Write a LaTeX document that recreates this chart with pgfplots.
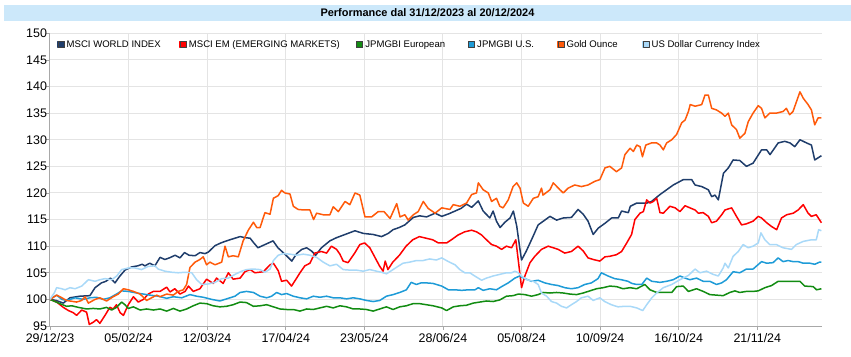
\documentclass[border=0pt]{standalone}
\usepackage{pgfplots}
\pgfplotsset{compat=1.18}
\usepackage{fontspec}
\setmainfont{Liberation Sans}
\definecolor{cWorld}{HTML}{1F3D6B}
\definecolor{cEM}{HTML}{FF0000}
\definecolor{cEur}{HTML}{128C12}
\definecolor{cUS}{HTML}{1E9BD7}
\definecolor{cGold}{HTML}{FF5A0A}
\definecolor{cUSD}{HTML}{A9D9F8}
\definecolor{titlebg}{HTML}{CCE8FA}
\definecolor{gridgray}{HTML}{E4E4E4}
\definecolor{axisgray}{HTML}{A8A8A8}
\begin{document}
\begin{tikzpicture}
\useasboundingbox (-50bp,-31bp) rectangle (801bp,326bp);
\begin{axis}[
  scale only axis, width=772bp, height=292.7bp,
  xmin=0, xmax=255.4, ymin=95, ymax=150,
  axis x line=bottom, axis y line=left,
  axis line style={draw=axisgray, line width=1bp, -},
  tick align=outside, major tick length=3.5bp,
  tick style={draw=axisgray, line width=0.8bp},
  grid=major, grid style={draw=gridgray, line width=1bp},
  ytick={95,100,...,150},
  xtick={0,26,52,78,104,130,156,182,208,234},
  xticklabels={29/12/23,05/02/24,12/03/24,17/04/24,23/05/24,28/06/24,05/08/24,10/09/24,16/10/24,21/11/24},
  ticklabel style={font=\fontsize{12.5}{14}\selectfont},
  yticklabel style={xshift=4bp},
  /pgf/number format/assume math mode=true,
  title={Performance dal 31/12/2023 al 20/12/2024},
  title style={at={(rel axis cs:0.5,1)}, anchor=center, yshift=14.3bp, xshift=-8.5bp,
    fill=titlebg, minimum width=847bp, minimum height=16bp, inner sep=0pt,
    font=\bfseries\fontsize{11}{13}\selectfont},
  legend columns=6,
  legend style={at={(rel axis cs:0,1)}, anchor=north west, xshift=7bp, yshift=-5bp,
    draw=none, fill=none, inner sep=0pt,
    font=\fontsize{9.6}{11}\selectfont,
    /tikz/column 2/.style={column sep=16.7bp},
    /tikz/column 4/.style={column sep=14.1bp},
    /tikz/column 6/.style={column sep=20.6bp},
    /tikz/column 8/.style={column sep=21bp},
    /tikz/column 10/.style={column sep=22.5bp}},
  legend image code/.code={\fill[#1] (0bp,-3bp) rectangle (6bp,3bp);
    \draw[black!75, line width=0.6bp] (0bp,-3bp) rectangle (6bp,3bp);},
  every axis plot/.append style={line width=1.5bp, line join=round, mark=none},
]
\addplot[color=cWorld] coordinates {
(0,100)(2,99.8)(4.4,99.3)(6.6,100.3)(9.9,100.6)(13.2,100.7)(14.9,102.2)(17,103.1)(18.5,103.4)(20,104)(21.5,103.1)(23,104.3)(24.8,105.5)(27,106.1)(29,106.3)(30.5,106.6)(31.4,106.3)(33,106.8)(34.7,106.3)(36.4,107.9)(38,107.5)(39.5,107.8)(41.4,108.3)(43,107.8)(44.5,108.8)(46,108.3)(48,108.2)(49.6,108.8)(51.3,108.6)(52.4,108.9)(54.6,110.1)(56.5,110.6)(57.9,110.9)(59.5,111.2)(61.2,111.5)(62.9,111.8)(64.5,111.6)(66.2,111.5)(67.3,110.7)(68.8,109.7)(71.1,110.3)(73.8,111)(75.4,109.7)(77.7,108.5)(80,107.2)(81.6,108.6)(83.3,109.4)(84.9,109.7)(86.5,109.1)(87.9,108.3)(89.8,109.7)(92.6,111)(94.8,111.6)(98.1,112.3)(100.9,112.9)(103.6,112.4)(106.9,112.2)(109.7,111.8)(111.9,112.4)(113.5,113.1)(115.5,113.5)(117.4,114)(120.2,115.4)(122.3,115.7)(124.6,115.5)(127.4,116.2)(129.6,115.6)(132,116.1)(134,116.6)(136,117.1)(137.8,117.9)(139.5,117.3)(141.7,118.5)(143.3,116.6)(145.5,115.3)(146.6,116.6)(147.7,114.7)(148.9,113.5)(150.5,114.5)(152.2,115.3)(153.3,116.6)(154.4,113.8)(155.5,109.3)(156,107.4)(157.5,109)(159.3,111.2)(161.5,114)(163.7,114.9)(165.4,115.6)(167.6,114.9)(169.8,115.3)(172.5,115.4)(174.7,116.9)(176.4,116)(178,114.7)(179.7,112.2)(181.4,113.4)(183.6,114.3)(185.8,115.3)(188,115.3)(189.1,116.6)(191.3,116.3)(192,117.5)(194.1,118.1)(197.4,118.1)(199,118.4)(201.8,119.7)(204,120.6)(206.2,121.5)(209.5,122.5)(212.3,122.5)(213.4,121.5)(215.6,121.2)(217.8,120.6)(218.9,119.3)(220,119.6)(221.1,118.7)(222.8,123.7)(224.4,124.7)(226,126.2)(228.2,126.1)(230.4,125)(232.6,125.6)(235.4,128.1)(237.1,128.1)(238.2,127.2)(240.9,129.4)(243.1,129.7)(244.8,129.4)(246.4,128.7)(248.1,130)(250.3,129.4)(251.9,129)(253,126.2)(255.2,127)
};
\addlegendentry{MSCI WORLD INDEX}
\addplot[color=cEM] coordinates {
(0,100)(2.2,99.5)(4.4,98.5)(6.1,97.9)(7.7,97.5)(8.8,97)(10.5,98)(12.1,97.6)(13,95.3)(14.3,95.7)(15.4,96.2)(16.5,95.5)(18.2,97)(19.8,98.5)(20.9,98.2)(22,99)(23.2,97.5)(24.3,97)(25.9,99)(27.6,100.5)(29.2,99.5)(30.9,100)(32.5,101)(34.2,101.5)(36.4,101.5)(38.6,102.3)(39.7,101.4)(41.3,102)(43,101)(44.7,101.5)(45.8,102.5)(47.4,101.5)(49.6,102)(51.8,103.8)(54,103)(55.1,104)(57.3,103)(59,105)(60.6,103.8)(62.9,104)(64.5,105.2)(66.2,105.6)(67.8,105)(70.6,105.2)(72.8,106.5)(73.9,106.8)(75.5,105.4)(76.6,103.4)(78.3,103.6)(79.9,102.5)(81.6,104)(82.7,105)(84.3,106.3)(86,106.8)(87.6,108.7)(89.8,109)(91.5,108.7)(93.1,110)(94.8,109.4)(95.9,108.5)(97,107.2)(98.6,106.9)(100.8,108.7)(102.5,110.3)(104.1,110.6)(105.8,109.7)(107.4,108)(109.1,106.2)(110.2,105.3)(110.9,107.2)(111.8,105.6)(113.4,107)(115.6,108.3)(117.8,110)(120,111.2)(122.2,111.8)(124.4,111.5)(126.6,111.2)(128.5,110.6)(131.2,110.6)(132.8,111.2)(135,112.1)(137.2,112.7)(139.5,113)(141.1,112.7)(142.8,112.1)(144.4,111.2)(146.1,110.3)(147.7,110)(149.4,109.4)(151,110)(152.7,109.7)(154.1,111.2)(155.1,106.5)(156,102.2)(157.1,104.4)(158.8,106.9)(160.4,108.1)(162.6,109.4)(164.8,110)(166.5,109.7)(168.1,109.4)(170.3,108.7)(172.5,109)(174.7,110)(176.4,109.1)(178,107.8)(179.7,107.5)(181.9,107.2)(183.6,108)(185.2,108.1)(187.4,108.4)(189.1,109)(190.8,110.6)(192.4,112.2)(193.5,115)(195.2,116.2)(196.3,116.5)(197.4,118.7)(198.5,118.1)(199.6,118.4)(200.7,119)(201.8,116.3)(202.9,116.2)(205.1,117.5)(206.8,117.2)(208.4,116.5)(210.1,117.6)(211.7,117.2)(213.4,116.8)(214.5,116.2)(216.1,116.3)(217.8,115.6)(218.9,114.4)(220.5,114.7)(222.2,115.9)(223.3,116.8)(225.5,117.2)(227.1,115.6)(228.8,114)(230.4,114.2)(232.6,114.7)(234.3,115.6)(235.4,115.3)(237.1,114.4)(238.7,113.7)(240.4,113.1)(242,115.3)(243.7,115.9)(245.9,116.2)(247.5,116.8)(249.2,117.8)(250.8,116.2)(251.9,115.6)(253.5,115.9)(255.2,114.4)
};
\addlegendentry{MSCI EM (EMERGING MARKETS)}
\addplot[color=cEur] coordinates {
(0,100)(3.3,99.2)(5.5,98.7)(7.2,98.8)(9.4,98.5)(12.1,98.2)(14.3,98.3)(16.5,98.2)(18.7,98.5)(20.4,98)(22,98.5)(23.7,99.5)(24.8,99)(25.9,98.3)(27.6,98.6)(29.8,98)(32,98.2)(34.2,98)(36.4,98.2)(38.6,97.8)(40.8,98.3)(43,97.8)(45.2,98.2)(47.4,98.8)(49.6,99.3)(51.8,99.2)(54,98.8)(56.2,98.6)(58.4,98.7)(60.6,99)(62.9,99.5)(65,99.4)(67.3,98.7)(69.5,98.8)(71.7,99)(73.9,98.6)(76.1,98.2)(78.3,98.1)(80.5,98.1)(82.7,97.8)(84.9,98.2)(87.1,98.1)(89.3,98.4)(91.5,98.7)(93.7,98.4)(95.9,98.8)(98.1,98.6)(100.3,98.2)(102.5,98.2)(104.7,98.1)(106.9,97.8)(109.1,98.2)(111.3,98.6)(113.5,98.1)(115.7,98.6)(117.9,98.8)(120.1,99.2)(122.3,99.2)(124.5,99)(126.7,98.8)(129.6,98.4)(131.2,97.9)(133.4,98.6)(135.6,98.8)(137.8,98.9)(140,99.3)(142.2,99.5)(144.4,99.7)(146.6,99.6)(148.8,99.9)(151,100.6)(153.2,100.7)(154.9,101)(157.1,100.9)(159.3,100.6)(161.5,100.9)(163.1,101.3)(165.4,101.2)(167.6,101.3)(169.8,101.2)(172,101)(174.2,100.9)(176.4,101.2)(178.6,101.6)(180.8,102)(183,102.2)(185.2,102.5)(187.4,102.4)(189.6,102)(191.9,102.2)(194.1,102)(196.8,102.8)(198.5,101.8)(200.7,101.3)(202.9,101.3)(205.7,101.3)(207.3,102.4)(209.5,102.5)(211.2,101.5)(213.9,102)(216.1,101.5)(218.3,100.9)(220.5,100.8)(222.7,100.7)(224.9,101.3)(226.6,101.6)(228.2,101.3)(230.4,101.5)(232.6,101.5)(234.3,101.6)(236.5,102.2)(238.7,102.6)(240.9,103.4)(243.7,103.4)(248.1,103.4)(249.7,102.5)(252.5,102.4)(253.6,101.8)(255.2,102)
};
\addlegendentry{JPMGBI European}
\addplot[color=cUS] coordinates {
(0,100)(2.2,100.8)(3.9,100)(5.5,99.8)(8.3,100.3)(11,100)(13.2,100.3)(15.4,100.4)(17.6,100)(19.8,100.3)(22,101)(23.7,101.6)(25.9,101.5)(28.7,101.2)(30.9,101)(33.1,100.8)(35.8,100.6)(38.6,100.2)(40.8,100.5)(43.6,100.3)(46.3,100.9)(48.5,100.6)(50.7,100.4)(53.5,100)(56.2,99.7)(59,100.2)(61.2,100.6)(62.9,101.3)(65,101.5)(67.3,101.3)(69.5,100.6)(71.7,100.3)(73.3,100.6)(75,101.3)(76.6,100.9)(78.3,101.1)(80.5,100.6)(82.7,100.3)(84.9,100.1)(87.1,100.6)(89.3,100.4)(91.5,100.6)(93.7,100.3)(95.9,100.3)(98.1,100.1)(100.3,100.3)(102.5,100.1)(104.7,99.8)(106.9,99.6)(109.1,99.8)(111.3,100.6)(113.5,100.9)(115.7,101.3)(117.9,101.8)(119.5,103.2)(121.2,102.8)(122.8,103.1)(124.5,103.1)(126.7,103)(129.6,102.5)(131.8,101.8)(134,101.8)(136.2,101.7)(138.4,101.8)(140.6,101.8)(141.7,102.2)(143.3,101.7)(145.5,102)(147.7,101.8)(149.4,102.4)(151.6,103.1)(153.8,104)(155.4,104.4)(157.1,103.9)(159.3,103.4)(161.5,103.6)(163.7,103.1)(165.9,102.8)(168.1,102.6)(170.3,102.2)(172.5,102)(174.7,102.2)(176.9,102.8)(179.1,103.1)(181.3,103.9)(182.4,105)(184.6,104.4)(186.8,103.9)(189,103.7)(191.2,103.4)(192.5,103)(194.1,102.8)(195.8,102.8)(197.4,104)(199.1,103.4)(201.8,103.2)(204,103.4)(206.2,103.7)(208.4,104.4)(210.1,104)(211.7,103.7)(213.9,104)(216.1,103.4)(218.3,103.4)(220.5,102.8)(222.2,103.1)(223.8,103.7)(226,105.2)(228.2,105)(230.4,105.7)(232.6,105.7)(235.4,107.1)(237.1,106.8)(239.2,106.9)(240.9,107.8)(242.5,107.1)(244.2,107.3)(245.8,107.1)(247.5,107.1)(249.2,106.8)(251.4,106.8)(253,106.6)(254.6,107)(255.2,107)
};
\addlegendentry{JPMGBI U.S.}
\addplot[color=cGold] coordinates {
(0,100)(2.2,100.8)(3.3,100.5)(5.5,99.8)(8.8,99.5)(10.5,99.8)(11.6,100.5)(12.7,99.3)(14.9,100)(16.5,100.3)(18.7,99.7)(20.9,100.5)(22.6,101)(24.3,102)(25.9,101.8)(27.6,101.5)(29.8,101)(32,99.8)(33.6,100.3)(35.3,100.8)(36.4,100.5)(38.6,101)(40.8,100.8)(42.4,101.5)(44.1,101.8)(45.2,102.8)(46.3,106)(48,107)(49.6,107.5)(50.7,108)(51.8,106.5)(52.9,107)(54.6,106.5)(56.8,107)(57.9,110)(59,108)(60.6,108.2)(62.3,108)(63.9,111)(65.6,113)(67.3,114.5)(68.4,113.5)(69.5,113.5)(71.1,116.3)(72.8,116)(73.9,119)(75.5,119.5)(76.6,120.5)(77.7,120)(79.4,119.8)(80.5,117.5)(82.1,116.9)(84,116.8)(86,116.8)(87.2,115)(88.2,116.2)(90.4,115.9)(92.6,115.9)(93.7,117.4)(95.4,116.5)(97.6,118.4)(99.2,117.8)(100.9,120)(102.5,119.6)(104.2,115.5)(106.4,115.5)(108.6,116.5)(110.5,116.5)(112.5,115.2)(114.7,118)(115.8,115.5)(117.4,115.9)(118.5,114.9)(120.2,115.9)(121.8,116.5)(123.5,118.4)(125.1,117.1)(127.4,116.2)(129.6,117.2)(132.3,116.9)(133.4,117.8)(135.6,117.5)(137.8,118.1)(139.5,119.7)(141.1,120)(141.7,121.9)(143.3,120.6)(145,120)(146.1,118.4)(147.7,119)(148.8,117.5)(149.9,117.2)(151.6,118.7)(153.2,121.2)(154.4,121.9)(155.5,120.9)(156.6,118.1)(158.2,117.5)(159.9,119)(161.5,119.3)(162.6,120.9)(163.1,119.6)(165.4,120.6)(166.5,121.9)(168.7,120.6)(169.8,120)(171.4,120.9)(173.6,121.5)(175.8,121.2)(178,121.5)(180.3,122.2)(181.9,122.5)(183.6,124.7)(185.2,125)(187.4,124)(189.1,124.7)(190.2,127.2)(191.9,128.4)(193,127.8)(194.1,129)(195.2,128.7)(196,126.8)(197.1,129)(199,129.4)(200.7,129.4)(201.8,129)(202.9,128.1)(204,129.4)(205.7,130)(207.3,131)(209,133.2)(210.1,133.7)(211.2,135.3)(211.8,136.6)(213.4,136.3)(215.6,136.6)(216.7,138.4)(217.8,138.4)(218.9,135.9)(220.5,135.6)(222.2,135)(223.3,134.4)(224.4,135)(225.5,132.8)(227.1,131.9)(228.2,130.3)(229.9,131.2)(231,133.4)(232.6,135)(234.3,136.4)(235.4,135.9)(236.5,134.1)(238.1,135)(240.3,135)(242.5,135.3)(243.6,135.9)(244.7,134.7)(245.8,135.3)(248.1,139)(249.2,137.8)(250.8,136.6)(251.9,135.6)(253,132.8)(254.1,134.1)(255.2,134.1)
};
\addlegendentry{Gold Ounce}
\addplot[color=cUSD] coordinates {
(0,100)(1.5,101.3)(2.2,102.2)(3.9,102)(5,101.8)(6.6,102.2)(8.3,102)(10.5,102.5)(11.6,103.1)(12.7,103.7)(14.9,103.4)(16.5,103.7)(18.2,103.9)(20.4,103.7)(22.1,104.4)(23.7,105.6)(25.9,105.9)(28.1,105.9)(30.3,105.6)(32.5,106.2)(34.7,106.3)(35.8,105.7)(38,105.3)(40.3,105.1)(42.4,105)(44.7,105.1)(46.9,105)(48.5,103.7)(50.2,102.8)(52.4,102.9)(54.6,103.2)(56.8,103.9)(59,104)(61.2,104.7)(63.4,105.3)(65,105.6)(67.3,105.7)(69.5,105.6)(71.1,105.1)(72.8,105.7)(73.9,107.3)(75.5,108.3)(77.2,108.6)(79.4,108.5)(81.6,108.3)(83.8,108.5)(86,108.3)(88.2,107.9)(90.4,107)(92.6,106.3)(94.8,106.6)(97,105.6)(99.2,105.5)(101.4,105.5)(103.6,105.3)(105.8,105.6)(108,105.3)(109.7,105.1)(111.3,104.8)(113.5,105.6)(115.1,106.2)(116.8,106.8)(119,107)(121.2,107.3)(123.4,107.3)(125.6,107.6)(127.8,107.4)(129.6,107.8)(131.8,107.1)(134,106.5)(135.6,105.6)(137.2,105)(138.9,105)(140.5,104.4)(142.8,103.6)(144.4,104)(146.6,104.4)(148.8,104.7)(151,105)(152.7,105)(153.8,105.3)(154.9,105)(156,104.4)(157.7,103.7)(159.9,103.4)(161.5,102.8)(162.6,101.2)(164.3,100.6)(165.9,99.6)(167.6,99.3)(169.2,98.7)(170.9,98.4)(172.5,99)(174.2,99.6)(175.8,100.3)(178,100.6)(179.7,99.8)(181.9,100.3)(183.5,99.6)(185.7,99)(187.9,98.6)(190.1,98.7)(191.9,98.7)(194.1,98.4)(196.1,97.9)(197.4,99)(199.1,100.3)(200.7,101.2)(202.9,102.2)(205.7,102.8)(208.4,103.7)(211.2,104.5)(213.4,105.7)(215,105)(217.2,105.3)(219.4,104.7)(221.1,104.4)(222.7,105.9)(223.3,106.8)(224.4,105.9)(226,108.1)(227.7,109)(229.3,110.3)(231,109.7)(232.6,110)(234.3,110.6)(235.2,112.5)(236.5,111.2)(238.1,110.3)(240.3,110.3)(242.5,109.7)(245.3,109.4)(246.9,110.3)(249.2,110.9)(251.9,111.2)(253.5,111.2)(254.3,113.1)(255.2,112.9)
};
\addlegendentry{US Dollar Currency Index}
\end{axis}
\end{tikzpicture}
\end{document}
